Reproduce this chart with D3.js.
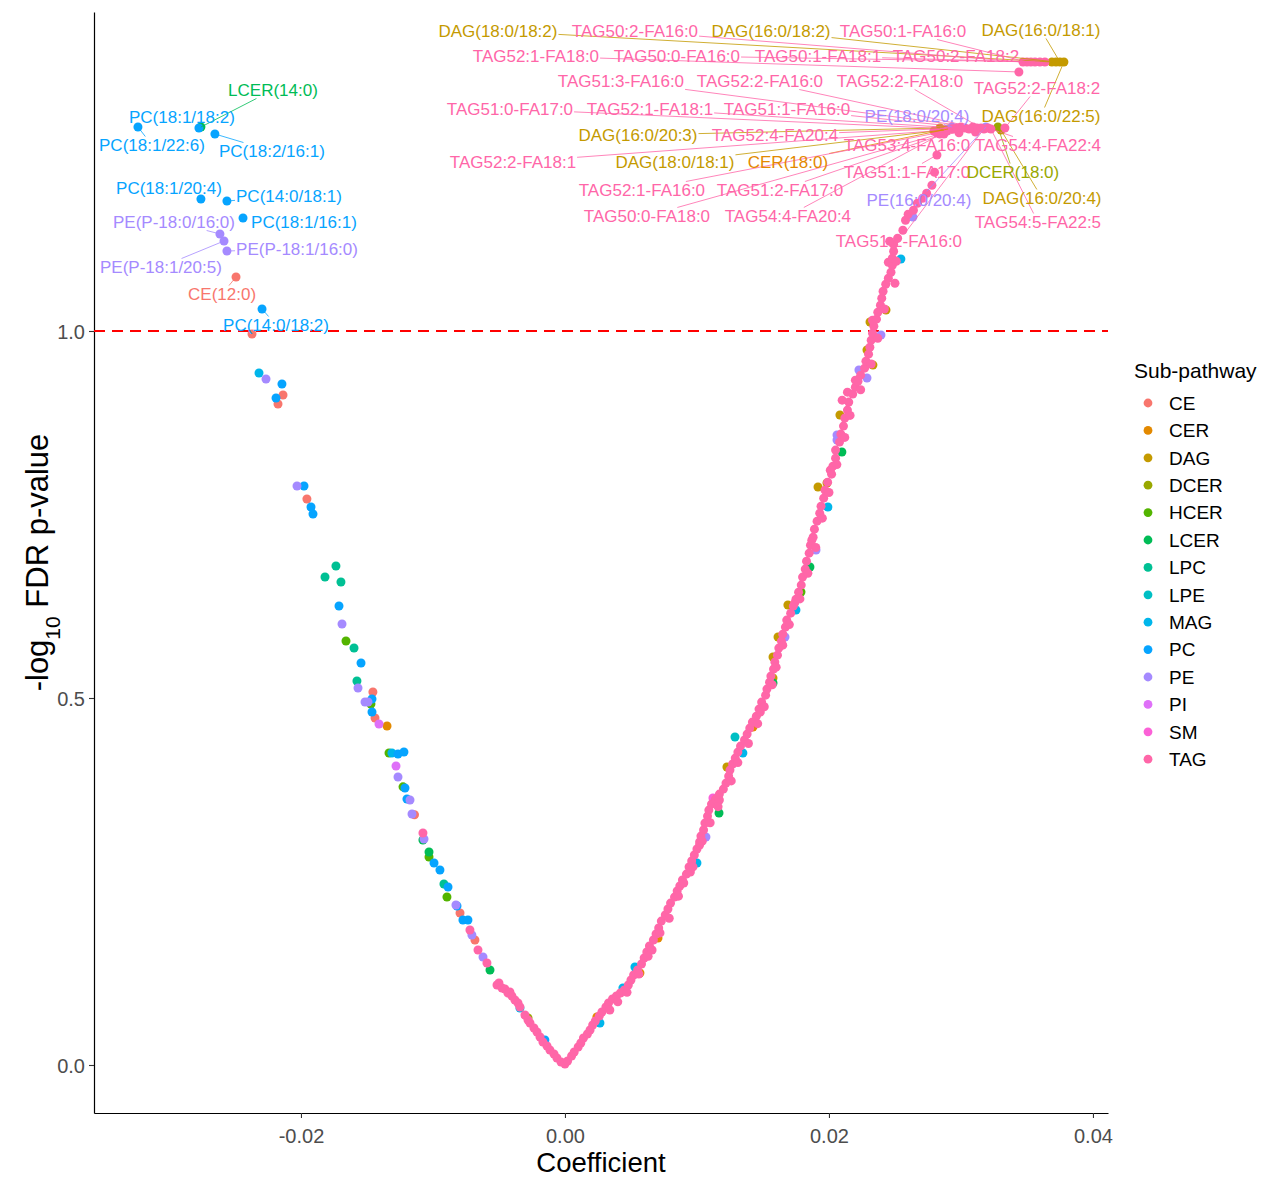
<!DOCTYPE html>
<html>
<head>
<meta charset="utf-8">
<script src="https://cdn.jsdelivr.net/npm/d3@7"></script>
<style>
  body { margin: 0; background: #fff; }
  text { font-family: "Liberation Sans", Arial, sans-serif; }
</style>
</head>
<body>
<script>
// Sub-pathway classes (legend order) and ggplot hue colours
const classes = ["CE", "CER", "DAG", "DCER", "HCER", "LCER", "LPC", "LPE", "MAG", "PC", "PE", "PI", "SM", "TAG"];
const classColors = ["#F8766D", "#E38900", "#C49A00", "#99A800", "#53B400", "#00BC56", "#00C094",
                     "#00BFC4", "#00B6EB", "#06A4FF", "#A58AFF", "#DF70F8", "#FB61D7", "#FF66A8"];

const xTicks = [-0.02, 0, 0.02, 0.04];
const yTicks = [0, 0.5, 1.0];
const fdrLine = 1.0;

// unlabelled points: [coefficient, -log10 FDR p]
const cePts = [[-0.02371,0.9959],[-0.02136,0.9128],[-0.02174,0.9005],[-0.01955,0.7711],[-0.01455,0.5082],
  [-0.01439,0.4728],[-0.01140,0.3410],[-0.00795,0.2071],[-0.00682,0.1703]];
const cerPts = [[-0.01348,0.4619],[0.01424,0.4605],[0.00705,0.1730],[0.00568,0.1253],[0.00242,0.0654]];
const dagPts = [[0.02311,1.0123],[0.02432,1.0286],[0.02288,0.9741],[0.02333,0.9537],[0.02083,0.8856],
  [0.01917,0.7875],[0.01985,0.7929],[0.01689,0.6267],[0.01614,0.5831],[0.01576,0.5559],[0.01576,0.5272],[0.01227,0.4060]];
const dcerPts = [[-0.00280,0.0640]];
const hcerPts = [[-0.01659,0.5777],[-0.01470,0.4918],[-0.01333,0.4251],[-0.01227,0.3790],[-0.01030,0.2834],
  [-0.00894,0.2289],[0.01788,0.6444]];
const lcerPts = [[-0.01076,0.3065],[-0.01030,0.2902],[-0.00568,0.1294],[0.02098,0.8351],[0.01856,0.6785],
  [0.01576,0.5204],[0.01167,0.3433]];
const lpcPts = [[-0.01735,0.6798],[-0.01818,0.6649],[-0.01697,0.6580],[-0.01598,0.5681],[-0.01576,0.5232],[-0.00917,0.2466]];
const lpePts = [[0.01288,0.4469]];
const magPts = [[-0.02318,0.9428],[-0.01311,0.4251],[0.02545,1.0981],[0.01992,0.7602],[0.01750,0.6199],
  [0.01348,0.4251],[0.01000,0.2752],[0.00530,0.1335],[0.00439,0.1049],[0.00265,0.0572],[-0.00341,0.0777]];
const pcPts = [[-0.02144,0.9278],[-0.02189,0.9087],[-0.01977,0.7888],[-0.01924,0.7602],[-0.01909,0.7507],
  [-0.01712,0.6253],[-0.01545,0.5477],[-0.01462,0.4986],[-0.01462,0.4809],[-0.01265,0.4237],[-0.01220,0.4264],
  [-0.01212,0.3774],[-0.01197,0.3624],[-0.00992,0.2752],[-0.00947,0.2657],[-0.00886,0.2425],[-0.00818,0.2166],
  [-0.00773,0.1975],[-0.00735,0.1975],[-0.00152,0.0341]];
const pePts = [[-0.02265,0.9346],[-0.02030,0.7888],[-0.01689,0.6008],[-0.01568,0.5136],[-0.01515,0.4946],
  [-0.01492,0.4946],[-0.01265,0.3924],[-0.01174,0.3610],[-0.01159,0.3420],[-0.01068,0.3079],[-0.00826,0.2180],
  [-0.00705,0.1771],[-0.00621,0.1471],[0.02394,0.9946],[0.02227,0.9469],[0.02288,0.9360],[0.02061,0.8583],
  [0.02061,0.8515],[0.01902,0.7016],[0.01667,0.5831],[0.01068,0.3106],[0.02636,1.1553]];
const piPts = [[-0.01409,0.4646],[-0.01280,0.4074]];
const smPts = [[0.01121,0.3638]];
const tagPts = [
  // left arm
  [-0.01076,0.3161],[-0.00720,0.1839],[-0.00659,0.1567],[-0.00591,0.1390],[-0.00500,0.1117],[-0.00515,0.1090],
  [-0.00477,0.1049],[-0.00455,0.1035],[-0.00432,0.0981],[-0.00417,0.0995],[-0.00402,0.0940],[-0.00379,0.0886],
  [-0.00356,0.0845],[-0.00341,0.0790],[-0.00303,0.0681],[-0.00280,0.0613],[-0.00265,0.0572],[-0.00235,0.0504],
  [-0.00212,0.0450],[-0.00189,0.0381],[-0.00167,0.0313],[-0.00136,0.0259],[-0.00114,0.0204],[-0.00083,0.0150],
  [-0.00061,0.0095],[-0.00030,0.0041],[0.0000,0.0014],
  // right arm
  [0.0002,0.0054],[0.0005,0.0123],[0.0007,0.0177],[0.0010,0.0245],[0.0012,0.0300],[0.0014,0.0368],[0.0017,0.0422],
  [0.0019,0.0477],[0.0021,0.0545],[0.0023,0.0599],[0.0026,0.0667],[0.0028,0.0722],[0.0031,0.0790],[0.0033,0.0844],
  [0.0034,0.0749],[0.0036,0.0899],[0.0039,0.0940],[0.0042,0.0981],[0.0045,0.1022],[0.0048,0.1090],[0.0050,0.1158],
  [0.0052,0.1226],[0.0055,0.1294],[0.0058,0.1376],[0.0060,0.1457],[0.0062,0.1539],[0.0066,0.1566],[0.0064,0.1621],
  [0.0067,0.1703],[0.0069,0.1784],[0.0071,0.1866],[0.0073,0.1961],[0.0076,0.2043],[0.0078,0.2125],[0.0080,0.2206],
  [0.0083,0.2288],[0.0085,0.2370],[0.0087,0.2438],[0.0089,0.2520],[0.0092,0.2601],[0.0095,0.2629],[0.0094,0.2697],
  [0.0096,0.2779],[0.0098,0.2861],[0.0100,0.2942],[0.0102,0.2997],[0.0102,0.3038],[0.0103,0.3119],[0.0105,0.3201],
  [0.0106,0.3296],[0.0108,0.3391],[0.0109,0.3473],[0.0111,0.3555],[0.0114,0.3623],[0.0117,0.3610],[0.0117,0.3691],
  [0.0120,0.3759],[0.0122,0.3841],[0.0124,0.3936],[0.0125,0.4018],[0.0127,0.4100],[0.0129,0.4181],[0.0131,0.4263],
  [0.0133,0.4345],[0.0136,0.4427],[0.0138,0.4508],[0.0140,0.4590],[0.0142,0.4672],[0.0145,0.4753],[0.0148,0.4808],
  [0.0147,0.4849],[0.0149,0.4944],[0.0152,0.5039],[0.0153,0.5121],[0.0155,0.5216],[0.0156,0.5298],[0.0158,0.5394],
  [0.0159,0.5489],[0.0161,0.5584],[0.0162,0.5680],[0.0164,0.5775],[0.0165,0.5870],[0.0167,0.5966],[0.0168,0.6061],
  [0.0171,0.6156],[0.0173,0.6252],[0.0174,0.6293],[0.0175,0.6347],[0.0177,0.6442],[0.0179,0.6538],[0.0180,0.6647],
  [0.0182,0.6756],[0.0183,0.6864],[0.0185,0.6973],[0.0186,0.7082],[0.0187,0.7150],[0.0188,0.7191],[0.0189,0.7300],
  [0.0191,0.7409],[0.0193,0.7518],[0.0194,0.7614],[0.0196,0.7723],[0.0197,0.7832],[0.0199,0.7941],[0.0201,0.8104],
  [0.0202,0.8050],[0.0203,0.8159],[0.0205,0.8268],[0.0205,0.8377],[0.0208,0.8486],[0.0209,0.8595],[0.0211,0.8704],
  [0.0212,0.8813],[0.0210,0.9058],[0.0214,0.8922],[0.0214,0.9167],[0.0215,0.9031],[0.0218,0.9140],[0.0220,0.9235],
  [0.0220,0.9330],[0.0222,0.9316],[0.0224,0.9398],[0.0227,0.9494],[0.0228,0.9589],[0.0230,0.9684],[0.0231,0.9779],
  [0.0232,0.9875],[0.0233,0.9970],[0.0234,1.0065],[0.0233,1.0147],[0.0236,1.0161],[0.0237,1.0256],[0.0239,1.0351],
  [0.0240,1.0447],[0.0241,1.0542],[0.0243,1.0637],[0.0245,1.0719],[0.0247,1.0801],[0.0245,1.0937],[0.0248,1.0896],
  [0.0248,1.0991],[0.0249,1.1087],[0.0249,1.1182],[0.0246,1.1223],[0.0252,1.1264],[0.0256,1.1373],[0.0258,1.1509],
  [0.0260,1.1591],[0.0264,1.1645],[0.0267,1.1741],[0.0271,1.1809],[0.0274,1.1877],[0.0278,1.1986],[0.0280,1.2163],
  // second row of the right arm, slightly to the right
  [0.0040,0.0860],[0.0047,0.0990],[0.0056,0.1240],[0.0063,0.1480],[0.0072,0.1800],[0.0079,0.2000],[0.0086,0.2300],
  [0.0090,0.2480],[0.0097,0.2700],[0.0104,0.3050],[0.0110,0.3300],[0.0116,0.3520],[0.0126,0.3870],[0.0131,0.4120],
  [0.0139,0.4380],[0.0146,0.4650],[0.0151,0.4880],[0.0157,0.5180],[0.0160,0.5420],[0.0165,0.5720],[0.0170,0.6000],
  [0.0178,0.6350],[0.0184,0.6700],[0.0190,0.7050],[0.0195,0.7450],[0.0200,0.7800],[0.0206,0.8180],[0.0212,0.8550],
  [0.0216,0.8850],[0.0224,0.9200],[0.0232,0.9550],[0.0237,0.9900],[0.0242,1.0300],[0.0250,1.0650],[0.0251,1.0950],
  // clusters near the top
  [0.02985,1.2700],[0.03110,1.2710],[0.03636,1.3665]];

const pointsByClass = [cePts, cerPts, dagPts, dcerPts, hcerPts, lcerPts, lpcPts, lpePts, magPts, pcPts, pePts, piPts, smPts, tagPts];

// labelled points: [name, class, coefficient, -log10 FDR p]
const labeled = [
  ["LCER(14:0)","LCER",-0.02758,1.2779],
  ["PC(18:1/22:6)","PC",-0.03235,1.2779],
  ["PC(18:1/18:2)","PC",-0.02773,1.2766],
  ["PC(18:2/16:1)","PC",-0.02652,1.2684],
  ["PC(18:1/20:4)","PC",-0.02758,1.1798],
  ["PC(14:0/18:1)","PC",-0.02561,1.1771],
  ["PC(18:1/16:1)","PC",-0.02439,1.1540],
  ["PE(P-18:0/16:0)","PE",-0.02614,1.1322],
  ["PE(P-18:1/20:5)","PE",-0.02583,1.1226],
  ["PE(P-18:1/16:0)","PE",-0.02561,1.1090],
  ["CE(12:0)","CE",-0.02492,1.0736],
  ["PC(14:0/18:2)","PC",-0.02295,1.0300],
  ["DAG(18:0/18:2)","DAG",0.03689,1.3665],
  ["TAG50:2-FA16:0","TAG",0.03470,1.3665],
  ["DAG(16:0/18:2)","DAG",0.03720,1.3665],
  ["TAG50:1-FA16:0","TAG",0.03500,1.3665],
  ["DAG(16:0/18:1)","DAG",0.03750,1.3665],
  ["TAG52:1-FA18:0","TAG",0.03439,1.3529],
  ["TAG50:0-FA16:0","TAG",0.03598,1.3665],
  ["TAG50:1-FA18:1","TAG",0.03530,1.3665],
  ["TAG50:2-FA18:2","TAG",0.03561,1.3665],
  ["TAG51:3-FA16:0","TAG",0.03091,1.2779],
  ["TAG52:2-FA16:0","TAG",0.03121,1.2766],
  ["TAG52:2-FA18:0","TAG",0.03152,1.2766],
  ["TAG52:2-FA18:2","TAG",0.03333,1.2766],
  ["TAG51:0-FA17:0","TAG",0.02939,1.2752],
  ["TAG52:1-FA18:1","TAG",0.02970,1.2766],
  ["TAG51:1-FA16:0","TAG",0.03000,1.2779],
  ["PE(18:0/20:4)","PE",0.02932,1.2779],
  ["DAG(16:0/22:5)","DAG",0.03780,1.3665],
  ["DAG(16:0/20:3)","DAG",0.02841,1.2766],
  ["TAG52:4-FA20:4","TAG",0.03030,1.2766],
  ["TAG53:4-FA16:0","TAG",0.03061,1.2752],
  ["TAG54:4-FA22:4","TAG",0.03205,1.2766],
  ["TAG52:2-FA18:1","TAG",0.02795,1.2725],
  ["DAG(18:0/18:1)","DAG",0.02871,1.2738],
  ["CER(18:0)","CER",0.02902,1.2752],
  ["TAG51:1-FA17:0","TAG",0.02818,1.2398],
  ["DCER(18:0)","DCER",0.03280,1.2779],
  ["TAG52:1-FA16:0","TAG",0.02818,1.2698],
  ["TAG51:2-FA17:0","TAG",0.02871,1.2684],
  ["PE(16:0/20:4)","PE",0.03189,1.2779],
  ["DAG(16:0/20:4)","DAG",0.03303,1.2738],
  ["TAG50:0-FA18:0","TAG",0.02841,1.2684],
  ["TAG54:4-FA20:4","TAG",0.02894,1.2725],
  ["TAG54:5-FA22:5","TAG",0.03227,1.2752],
  ["TAG51:2-FA16:0","TAG",0.03174,1.2752]
];

// where the repelled text ends up (label centre, in data units), same order as `labeled`
const labelSpots = [
  [-0.02212,1.3283],[-0.03129,1.2534],[-0.02902,1.2916],[-0.02220,1.2452],[-0.03000,1.1948],[-0.02091,1.1839],
  [-0.01977,1.1485],[-0.02962,1.1485],[-0.03061,1.0872],[-0.02030,1.1117],[-0.02598,1.0504],[-0.02189,1.0082],
  [-0.00508,1.4087],[0.00530,1.4087],[0.01561,1.4087],[0.02561,1.4087],[0.03606,1.4101],
  [-0.00220,1.3747],[0.00848,1.3747],[0.01917,1.3747],[0.02962,1.3747],
  [0.00424,1.3406],[0.01477,1.3406],[0.02538,1.3406],[0.03576,1.3311],
  [-0.00417,1.3025],[0.00644,1.3025],[0.01682,1.3025],[0.02667,1.2929],[0.03606,1.2929],
  [0.00553,1.2670],[0.01591,1.2670],[0.02591,1.2534],[0.03583,1.2534],
  [-0.00394,1.2302],[0.00833,1.2302],[0.01689,1.2302],[0.02591,1.2166],[0.03394,1.2166],
  [0.00583,1.1921],[0.01629,1.1921],[0.02682,1.1785],[0.03614,1.1812],
  [0.00621,1.1567],[0.01689,1.1567],[0.03583,1.1485],[0.02530,1.1226]
];

const W = 1264, H = 1178;
const margin = { left: 94, right: 1108, top: 12, bottom: 1113 };
const color = d3.scaleOrdinal(classes, classColors);

const x = d3.scaleLinear().domain([-0.03568, 0.04114]).range([margin.left, margin.right]);
const y = d3.scaleLinear().domain([-0.0654, 1.4346]).range([margin.bottom, margin.top]);

const svg = d3.select("body").append("svg")
  .attr("width", W).attr("height", H)
  .style("background", "#fff");

// axes
const xAxis = svg.append("g")
  .attr("transform", `translate(0,${margin.bottom})`)
  .call(d3.axisBottom(x).tickValues(xTicks).tickFormat(d => d.toFixed(2)).tickSize(5).tickSizeOuter(0));
const yAxis = svg.append("g")
  .attr("transform", `translate(${margin.left},0)`)
  .call(d3.axisLeft(y).tickValues(yTicks).tickFormat(d => d.toFixed(1)).tickSize(5).tickSizeOuter(0));

[xAxis, yAxis].forEach(a => {
  a.select(".domain").attr("stroke", "#000").attr("stroke-width", 1.2);
  a.selectAll(".tick line").attr("stroke", "#333").attr("stroke-width", 1.1);
  a.selectAll(".tick text").attr("fill", "#4d4d4d").style("font-size", "20px")
    .style("font-family", "'Liberation Sans', Arial, sans-serif");
});
xAxis.selectAll(".tick text").attr("y", 30).attr("dy", null);
yAxis.selectAll(".tick text").attr("x", -9).attr("dy", "0.36em");

svg.append("text")
  .attr("x", (margin.left + margin.right) / 2).attr("y", 1172)
  .attr("text-anchor", "middle").style("font-size", "27.5px").attr("fill", "#000")
  .text("Coefficient");

const yTitle = svg.append("text")
  .attr("transform", `translate(48,${(margin.top + margin.bottom) / 2}) rotate(-90)`)
  .attr("text-anchor", "middle").style("font-size", "31px").attr("fill", "#000");
yTitle.append("tspan").text("-log");
yTitle.append("tspan").attr("baseline-shift", "sub").style("font-size", "21px").text("10");
yTitle.append("tspan").text(" FDR p-value");

// threshold line
svg.append("line")
  .attr("x1", margin.left).attr("x2", margin.right)
  .attr("y1", y(fdrLine)).attr("y2", y(fdrLine))
  .attr("stroke", "#FF0000").attr("stroke-width", 2.2).attr("stroke-dasharray", "11,7");

// points
const dots = [];
classes.forEach((c, i) => {
  pointsByClass[i].forEach(p => dots.push({ cls: c, coef: p[0], lp: p[1] }));
  if (c === "TAG") return;
  labeled.filter(l => l[1] === c).forEach(l => dots.push({ cls: c, coef: l[2], lp: l[3] }));
});
labeled.filter(l => l[1] === "TAG").forEach(l => dots.push({ cls: "TAG", coef: l[2], lp: l[3] }));

svg.append("g").selectAll("circle")
  .data(dots)
  .join("circle")
  .attr("cx", d => x(d.coef))
  .attr("cy", d => y(d.lp))
  .attr("r", 4.5)
  .attr("fill", d => color(d.cls));

// labels with repel-style segments
const segG = svg.append("g");
const labG = svg.append("g");
labeled.forEach((l, i) => {
  const [name, cls, cx, cy] = l;
  const tx = x(labelSpots[i][0]), ty = y(labelSpots[i][1]);
  const t = labG.append("text")
    .attr("x", tx).attr("y", ty).attr("dy", "0.36em")
    .attr("text-anchor", "middle")
    .style("font-size", "17px")
    .attr("fill", color(cls))
    .text(name);
  const bb = t.node().getBBox();
  const px = x(cx), py = y(cy);
  const hw = bb.width / 2 + 1, hh = bb.height / 2 - 1;
  const dx = px - tx, dy = py - ty;
  if (Math.abs(dx) <= hw && Math.abs(dy) <= hh) return;
  const s = Math.min(dx !== 0 ? hw / Math.abs(dx) : Infinity, dy !== 0 ? hh / Math.abs(dy) : Infinity);
  const sx = tx + dx * s, sy = ty + dy * s;
  if (Math.hypot(px - sx, py - sy) < 8) return;
  segG.append("line")
    .attr("x1", sx).attr("y1", sy).attr("x2", px).attr("y2", py)
    .attr("stroke", color(cls)).attr("stroke-width", 0.8);
});

// legend
const leg = svg.append("g").attr("transform", "translate(1134,0)");
leg.append("text").attr("x", 0).attr("y", 378).style("font-size", "21px").attr("fill", "#000").text("Sub-pathway");
const items = leg.selectAll("g.item")
  .data(classes)
  .join("g")
  .attr("class", "item")
  .attr("transform", (d, i) => `translate(0,${403 + i * 27.4})`);
items.append("circle").attr("cx", 14).attr("cy", 0).attr("r", 4.4).attr("fill", d => color(d));
items.append("text").attr("x", 35).attr("y", 0).attr("dy", "0.36em")
  .style("font-size", "19px").attr("fill", "#000").text(d => d);
</script>
</body>
</html>
